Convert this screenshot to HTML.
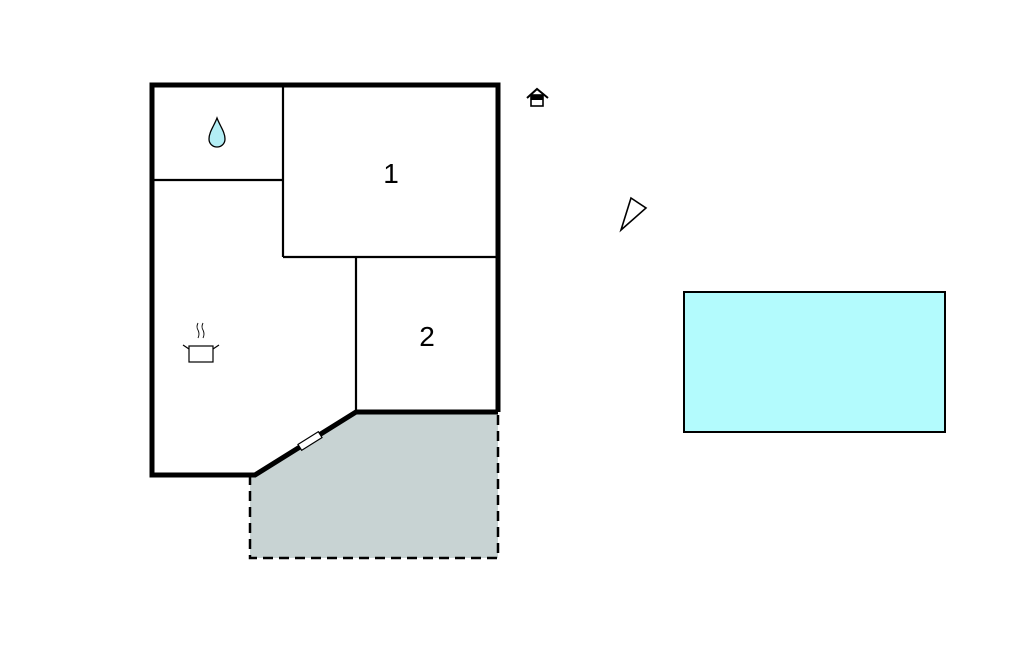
<!DOCTYPE html>
<html><head><meta charset="utf-8"><style>html,body{margin:0;padding:0;background:#fff}svg{display:block}</style></head>
<body>
<svg width="1024" height="652" viewBox="0 0 1024 652" xmlns="http://www.w3.org/2000/svg">
<polygon points="356,412 498,412 498,558 250,558 250,475 255,475" fill="#c8d3d3"/>
<g fill="none" stroke="#000" stroke-dasharray="10,6" stroke-width="2.5">
<polyline points="250,475 250,558 498,558 498,412"/>
</g>
<g fill="none" stroke="#000" stroke-width="2.2">
<line x1="283" y1="85" x2="283" y2="257"/>
<line x1="152" y1="180" x2="283" y2="180"/>
<line x1="283" y1="257" x2="498" y2="257"/>
<line x1="356" y1="257" x2="356" y2="412"/>
</g>
<polyline points="498,412 498,85 152,85 152,475 255,475 356,412 498,412" fill="none" stroke="#000" stroke-width="5" stroke-linejoin="miter"/>
<g transform="translate(310,441) rotate(-32)">
<rect x="-12" y="-3.5" width="24" height="7" fill="#fff" stroke="#000" stroke-width="1.2"/>
</g>
<path d="M217,118 C214,126 209,132 209,139 C209,144 213,147 217,147 C221,147 225,144 225,139 C225,132 220,126 217,118 Z" fill="#b3eef5" stroke="#000" stroke-width="1.3"/>
<text x="391" y="183" font-family="Liberation Sans, sans-serif" font-size="28" text-anchor="middle">1</text>
<text x="427" y="346" font-family="Liberation Sans, sans-serif" font-size="28" text-anchor="middle">2</text>
<g fill="none" stroke="#000" stroke-width="1.2">
<rect x="189" y="346" width="24" height="16" fill="#fff"/>
<path d="M189,349 L183,345 M213,349 L219,345"/>
<path d="M198,323 q-2,4 0,7 q2,4 0,8 M203,323 q-2,4 0,7 q2,4 0,8" stroke-width="0.9"/>
</g>
<g>
<path d="M527,98 L537,89 L548,98" fill="none" stroke="#000" stroke-width="2"/>
<rect x="531" y="95" width="12" height="11" fill="#fff" stroke="#000" stroke-width="1.6"/>
<rect x="531" y="95" width="12" height="5" fill="#000"/>
</g>
<polygon points="631,198 646,208 621,230" fill="none" stroke="#000" stroke-width="1.6"/>
<rect x="684" y="292" width="261" height="140" fill="#b3fbfd" stroke="#000" stroke-width="2"/>
</svg>
</body></html>
